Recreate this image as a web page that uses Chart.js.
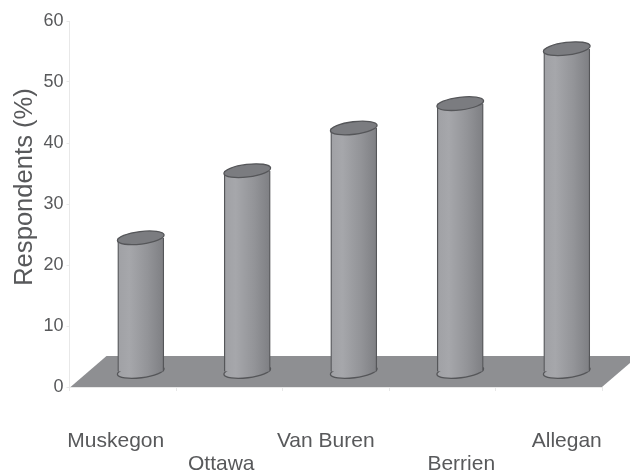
<!DOCTYPE html>
<html>
<head>
<meta charset="utf-8">
<style>
    html, body { margin: 0; padding: 0; background: #fff; }
    canvas { display: block; }
</style>
<script src="https://cdn.jsdelivr.net/npm/chart.js@4"></script>
</head>
<body>
<canvas id="chart" width="630" height="472"></canvas>
<script>
const categories = ["Muskegon", "Ottawa", "Van Buren", "Berrien", "Allegan"];
const respondents = [22, 33, 40, 44, 53];
const yTicks = [0, 10, 20, 30, 40, 50, 60];
const yTitle = "Respondents (%)";

// label placement under the axis: shift from the category centre, and which row
const labelShift = [-7, -8, -10, 19, 18];
const labelRow = [0, 1, 0, 1, 0];

const TEXT = "#58595b";
const FONT = "'Liberation Sans', Arial, sans-serif";
const BAR_WIDTH = 46;
const BAR_SHIFT = { x: 18, y: -15 };   // columns stand in the middle of the floor
const FLOOR_DEPTH = { x: 36, y: -31 };
const CAP = { rx: 23.5, ry: 6.3, tilt: -7 * Math.PI / 180 };

function cylinderFill(ctx, cx) {
    if (!isFinite(cx)) return "#97989c"; // dataset level lookup, no single bar yet
    const g = ctx.createLinearGradient(cx - BAR_WIDTH / 2, 0, cx + BAR_WIDTH / 2, 0);
    g.addColorStop(0, "#a0a1a5");
    g.addColorStop(0.25, "#a6a7ab");
    g.addColorStop(0.65, "#939498");
    g.addColorStop(1, "#7e7f83");
    return g;
}

function ellipse(ctx, x, y, fill) {
    ctx.beginPath();
    ctx.ellipse(x, y, CAP.rx, CAP.ry, CAP.tilt, 0, Math.PI * 2);
    ctx.fillStyle = fill;
    ctx.fill();
    ctx.lineWidth = 1.3;
    ctx.strokeStyle = "#555659";
    ctx.stroke();
}

// floor, cylinder ends and the hand placed axis texts
const cylinderPlugin = {
    id: "cylinders",
    beforeDatasetsDraw(chart) {
        const { ctx, scales } = chart;
        const y0 = scales.y.getPixelForValue(0);
        ctx.save();
        ctx.beginPath();
        ctx.moveTo(scales.x.left + 1, y0);
        ctx.lineTo(scales.x.left + 1 + FLOOR_DEPTH.x, y0 + FLOOR_DEPTH.y);
        ctx.lineTo(scales.x.right + FLOOR_DEPTH.x, y0 + FLOOR_DEPTH.y);
        ctx.lineTo(scales.x.right, y0);
        ctx.closePath();
        ctx.fillStyle = "#8e8f92";
        ctx.fill();
        ctx.restore();
    },
    beforeDatasetDraw(chart, args) {
        const { ctx } = chart;
        ctx.save();
        ctx.translate(BAR_SHIFT.x, BAR_SHIFT.y);
        // lower rim goes under the bar so only its front half shows
        chart.getDatasetMeta(args.index).data.forEach(bar => {
            ellipse(ctx, bar.x, bar.base, cylinderFill(ctx, bar.x));
        });
    },
    afterDatasetDraw(chart, args) {
        const { ctx } = chart;
        chart.getDatasetMeta(args.index).data.forEach(bar => {
            ellipse(ctx, bar.x, bar.y, "#7b7c80");
        });
        ctx.restore();
    },
    afterDraw(chart) {
        const { ctx, scales } = chart;
        ctx.save();
        ctx.fillStyle = TEXT;
        ctx.textAlign = "center";
        ctx.textBaseline = "middle";
        ctx.font = "21px " + FONT;
        categories.forEach((name, i) => {
            const x = scales.x.getPixelForTick(i) + labelShift[i];
            ctx.fillText(name, x, 441 + labelRow[i] * 23);
        });
        ctx.translate(25, 187);
        ctx.rotate(-Math.PI / 2);
        ctx.font = "25.6px " + FONT;
        ctx.fillText(yTitle, 0, 0);
        ctx.restore();
    }
};

new Chart(document.getElementById("chart"), {
    type: "bar",
    data: {
        labels: categories,
        datasets: [{
            data: respondents,
            barThickness: BAR_WIDTH,
            clip: false,
            borderWidth: { left: 1.3, right: 1.3, top: 0, bottom: 0 },
            borderColor: "#555659",
            backgroundColor: c => cylinderFill(c.chart.ctx, c.chart.scales.x.getPixelForTick(c.dataIndex))
        }]
    },
    options: {
        responsive: false,
        animation: false,
        layout: { padding: { top: 21, right: 28, left: 0, bottom: 0 } },
        plugins: { legend: { display: false }, tooltip: { enabled: false } },
        scales: {
            x: {
                offset: true,
                afterFit: s => { s.height = 85; },
                grid: { display: true, offset: true, drawOnChartArea: false, color: "#e8e8e8", tickLength: 4 },
                border: { color: "#e8e8e8" },
                ticks: { display: false }
            },
            y: {
                min: 0,
                max: 60,
                afterFit: s => { s.width = 69.5; },
                afterBuildTicks: s => { s.ticks = yTicks.map(v => ({ value: v })); },
                grid: { drawOnChartArea: false, color: "#e8e8e8", tickLength: 3 },
                border: { color: "#e8e8e8" },
                ticks: { color: TEXT, padding: 3, font: { family: FONT, size: 18 } }
            }
        }
    },
    plugins: [cylinderPlugin]
});
</script>
</body>
</html>
